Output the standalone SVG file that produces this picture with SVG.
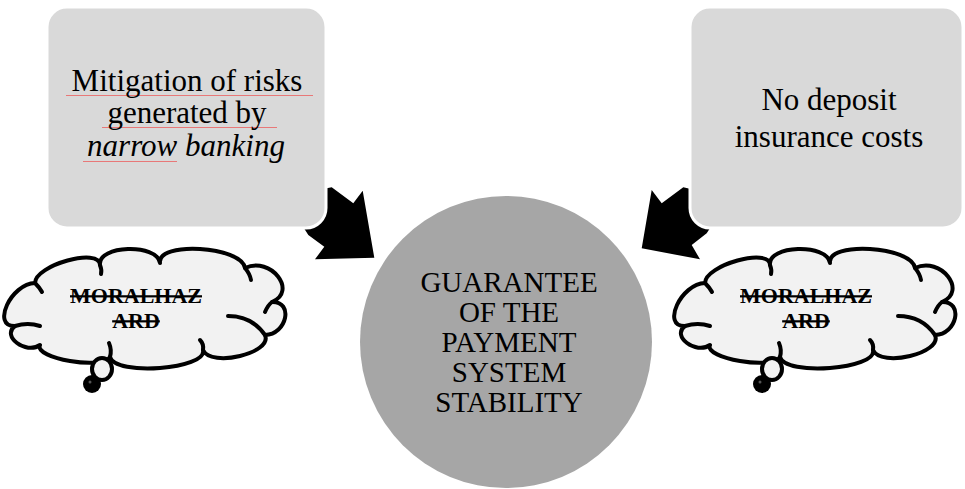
<svg xmlns="http://www.w3.org/2000/svg" width="965" height="489" viewBox="0 0 965 489">
  <style>
    .box { fill: #d9d9d9; stroke: #ffffff; stroke-width: 3; }
    .hub { fill: #a6a6a6; }
    .arrow { fill: #000000; }
    .cloud { fill: #f2f2f2; stroke: #000000; stroke-width: 4; stroke-linejoin: round; }
    .curl { fill: none; stroke: #000000; stroke-width: 4; stroke-linecap: round; }
    .txt { font-family: "Liberation Serif", "Times New Roman", serif; fill: #000000; text-anchor: middle; }
    .box-txt { font-size: 31px; }
    .hub-txt { font-size: 29px; }
    .cloud-txt { font-size: 22px; font-weight: bold; text-decoration: line-through; }
    .squiggle { stroke: #e87878; stroke-width: 1; fill: none; }
  </style>
  <defs>
    <g id="cloud-shape">
      <path class="cloud" d="M35,283 C35,265 100,247 100,265 C97.3,245 157.3,243 160,263 C156.7,241 241.7,246 245,268 C271,256 298,291.3 272,302 C294,301.3 287,334.3 265,335 C273,353 211,368 203,350 C207.7,369.3 114.7,376.3 110,357 C103.3,370.3 33.3,358.3 40,345 C26,355 1,336 15,326 C-9,326.7 11,283.7 35,283 Z"/>
      <!-- inner curls where the puffs meet -->
      <path class="curl" d="M15,326 Q28,322 40,326"/>
      <path class="curl" d="M35,283 Q40,288 42,292"/>
      <path class="curl" d="M100,265 Q102,270 101,274"/>
      <path class="curl" d="M245,268 Q250,274 251,280"/>
      <path class="curl" d="M272,302 Q268,305 265,312"/>
      <path class="curl" d="M265,335 Q252,316 228,316"/>
      <path class="curl" d="M203,350 Q204,344 200,340"/>
      <path class="curl" d="M110,357 Q112,350 109,343"/>
      <!-- trailing thought bubbles -->
      <ellipse cx="102" cy="369" rx="10" ry="11" fill="#f2f2f2" stroke="#000000" stroke-width="4"/>
      <circle cx="92" cy="384" r="9" fill="#000000"/>
      <circle cx="90" cy="382" r="1.5" fill="#555555"/>
    </g>
  </defs>

  <!-- connectors: block arrows pointing into the hub -->
  <g id="connectors">
    <polygon class="arrow" points="331.7,187.3 353.3,203.3 362.7,190.7 374.3,257.7 315,259.3 324.3,246.7 308.3,235 300,222 318,190"/>
    <polygon class="arrow" points="683.3,187.3 695,190 714,222 706.7,233.3 691.7,245 700,259.3 641.7,248.3 651.7,190 661.7,203.3"/>
  </g>

  <g id="node-mitigation">
    <rect class="box" x="47" y="7" width="279" height="221" rx="20" ry="20"/>
    <line class="squiggle" x1="66" y1="95.5" x2="313" y2="95.5"/>
    <line class="squiggle" x1="102" y1="127.5" x2="277" y2="127.5"/>
    <line class="squiggle" x1="83" y1="161.5" x2="177" y2="161.5"/>
    <text class="txt box-txt" x="187" y="91">Mitigation of risks</text>
    <text class="txt box-txt" x="187" y="123">generated by</text>
    <text class="txt box-txt" x="186" y="156" font-style="italic">narrow banking</text>
  </g>

  <g id="node-deposit">
    <rect class="box" x="690" y="7" width="273" height="221" rx="20" ry="20"/>
    <text class="txt box-txt" x="829" y="110">No deposit</text>
    <text class="txt box-txt" x="829" y="147">insurance costs</text>
  </g>

  <g id="node-guarantee">
    <circle class="hub" cx="506" cy="342" r="146"/>
    <text class="txt hub-txt" x="509" y="292">GUARANTEE</text>
    <text class="txt hub-txt" x="509" y="322">OF THE</text>
    <text class="txt hub-txt" x="509" y="352">PAYMENT</text>
    <text class="txt hub-txt" x="509" y="382">SYSTEM</text>
    <text class="txt hub-txt" x="509" y="412">STABILITY</text>
  </g>

  <g id="node-cloud-left">
    <use href="#cloud-shape"/>
    <text class="txt cloud-txt" x="136" y="303">MORALHAZ</text>
    <text class="txt cloud-txt" x="136" y="328">ARD</text>
  </g>

  <g id="node-cloud-right">
    <use href="#cloud-shape" transform="translate(670,0)"/>
    <text class="txt cloud-txt" x="806" y="303">MORALHAZ</text>
    <text class="txt cloud-txt" x="806" y="328">ARD</text>
  </g>
</svg>
